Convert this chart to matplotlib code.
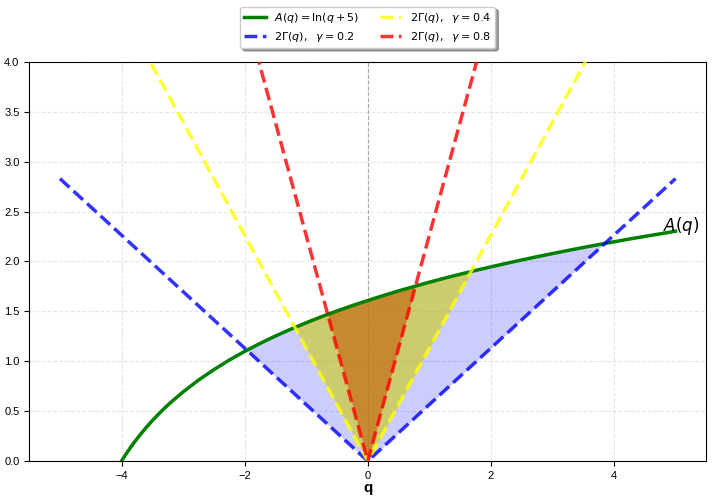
import matplotlib
matplotlib.use("Agg")
import matplotlib.pyplot as plt
import numpy as np

plt.rcParams['font.family'] = ['Liberation Sans', 'DejaVu Sans']
plt.rcParams['mathtext.fontset'] = 'dejavusans'

# A(q) = ln(q + 5)
q_curve = [-4.0, -3.95, -3.9, -3.85, -3.8, -3.7, -3.6, -3.5, -3.4, -3.3, -3.2,
           -3.0, -2.75, -2.5, -2.25, -2.0, -1.75, -1.5, -1.25, -1.0, -0.75,
           -0.5, -0.25, 0.0, 0.25, 0.5, 0.75, 1.0, 1.25, 1.5, 1.75, 2.0,
           2.25, 2.5, 2.75, 3.0, 3.25, 3.5, 3.75, 4.0, 4.25, 4.5, 4.75, 5.0]
a_curve = [0.0, 0.049, 0.095, 0.140, 0.182, 0.262, 0.336, 0.405, 0.470, 0.531,
           0.588, 0.693, 0.811, 0.916, 1.012, 1.099, 1.179, 1.253, 1.322,
           1.386, 1.447, 1.504, 1.558, 1.609, 1.658, 1.705, 1.749, 1.792,
           1.833, 1.872, 1.910, 1.946, 1.981, 2.015, 2.048, 2.079, 2.110,
           2.140, 2.169, 2.197, 2.225, 2.251, 2.277, 2.303]

# 2*Gamma(q) lines (V shape), end points and apex
q_line = [-5.0, 0.0, 5.0]
gammas = [0.2, 0.4, 0.8]
gamma_vals = {
    0.2: [2.83, 0.0, 2.83],
    0.4: [5.66, 0.0, 5.66],
    0.8: [11.31, 0.0, 11.31],
}
line_colors = {0.2: 'blue', 0.4: 'yellow', 0.8: 'red'}
fill_colors = {0.2: ('blue', 0.2), 0.4: ('#cccc00', 0.57), 0.8: ('#c55c0a', 0.6)}

fig = plt.figure(figsize=(7.12, 4.99), dpi=100)
ax = fig.add_axes([0.041, 0.076, 0.951, 0.800])

q_arr = np.array(q_curve)
a_arr = np.array(a_curve)

ax.plot(q_curve, a_curve, color='green', lw=2.5, label=r'$A(q) = \ln(q + 5)$', zorder=3)

for g in gammas:
    ax.plot(q_line, gamma_vals[g], '--', color=line_colors[g], lw=2.5, alpha=0.8,
            label=r'$2\Gamma(q),\ \ \gamma = %s$' % g, zorder=3)
    g_on_curve = np.interp(q_arr, q_line, gamma_vals[g])
    c, al = fill_colors[g]
    ax.fill_between(q_arr, g_on_curve, a_arr, where=a_arr >= g_on_curve,
                    interpolate=True, color=c, alpha=al, lw=0, zorder=2)

ax.axvline(0, color='gray', ls='--', lw=0.8, alpha=0.7, zorder=1)
ax.text(4.8, 2.25, r'$A(q)$', fontsize=12, ha='left', va='bottom')

ax.set_xlim(-5.5, 5.5)
ax.set_ylim(0, 4)
ax.set_xticks([-4, -2, 0, 2, 4])
ax.set_yticks(np.arange(0, 4.01, 0.5))
ax.tick_params(labelsize=8)
ax.set_xlabel('q', fontsize=11, fontweight='bold', labelpad=0)
ax.grid(True, ls='--', alpha=0.3)

ax.legend(loc='upper center', bbox_to_anchor=(0.5, 1.138), borderaxespad=0, ncol=2,
          shadow=True, fancybox=True, fontsize=8, columnspacing=1.8,
          labelspacing=0.4, handlelength=1.9)

plt.savefig('out.png', dpi=100)
